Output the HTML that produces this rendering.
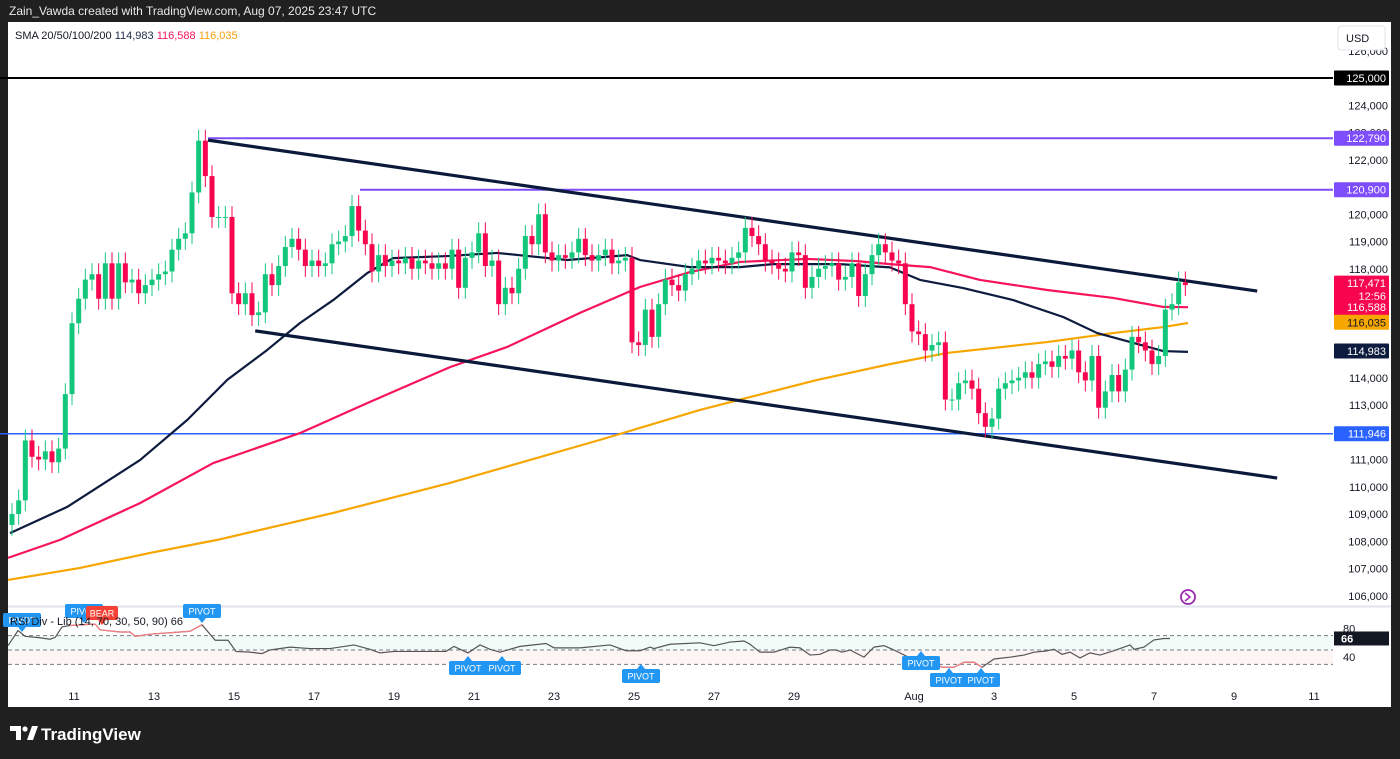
<!DOCTYPE html>
<html><head><meta charset="utf-8"><style>
html,body{margin:0;padding:0;background:#202020;width:1400px;height:759px;overflow:hidden;font-family:"Liberation Sans",Arial,sans-serif}
svg{position:absolute;left:0;top:0}
</style></head><body>
<svg id="chart" width="1400" height="759" viewBox="0 0 1400 759">
<rect x="0" y="0" width="1400" height="759" fill="#202020"/>
<rect x="8" y="22" width="1383" height="685" fill="#ffffff"/>
<text x="9" y="15" fill="#e8e8e8" font-size="12">Zain_Vawda created with TradingView.com, Aug 07, 2025 23:47 UTC</text>
<text x="15" y="39" font-size="11" fill="#131722">SMA 20/50/100/200 <tspan fill="#1e2a4a">114,983</tspan> <tspan fill="#f7145a">116,588</tspan> <tspan fill="#f5a00f">116,035</tspan></text>
<line x1="8" y1="606.5" x2="1391" y2="606.5" stroke="#e0e3eb" stroke-width="2"/>
<rect x="8" y="636" width="1325" height="14" fill="#f1fbf7"/>
<rect x="8" y="650" width="1325" height="14" fill="#fdf4f4"/>
<g id="main"></g>
<g id="rsi"></g>
<g id="axis"></g>
<rect x="1338" y="26" width="47" height="24" rx="3" fill="#fff" stroke="#e0e3eb"/>
<text x="1346" y="42" font-size="11" fill="#131722">USD</text>
<circle cx="1188" cy="597" r="7" fill="none" stroke="#9c27b0" stroke-width="1.8"/>
<path d="M1185 593 L1190 597 L1185 601" fill="none" stroke="#9c27b0" stroke-width="1.5"/>
<g>
<path d="M10 726 h11 v14 h-5 v-9 h-6 z" fill="#fff"/>
<circle cx="25" cy="729" r="2.6" fill="#fff"/>
<path d="M27 740 l5 -14 h6 l-5 14 z" fill="#fff"/>
<text x="41" y="740" fill="#fff" font-size="17" font-weight="bold">TradingView</text>
</g>
</svg>
<script>
// ---- data ----
const closes=[109.0,109.5,111.7,111.1,111.0,111.3,110.9,111.4,113.4,116.0,116.9,117.6,117.8,116.9,118.2,116.9,118.2,117.5,117.6,117.1,117.4,117.6,117.8,117.9,118.7,119.1,119.3,120.8,122.7,
121.4,119.9,119.9,119.9,117.1,116.7,117.1,116.3,116.4,117.8,117.4,118.1,118.8,119.1,118.7,118.1,118.3,118.1,118.2,118.9,119.0,119.2,120.3,119.4,118.9,117.9,118.5,118.1,118.3,
118.2,118.4,118.0,118.3,118.2,118.0,118.2,118.0,118.7,117.3,118.4,118.6,119.3,118.1,118.3,116.7,117.3,117.1,118.0,119.2,118.9,120.0,118.6,118.3,118.5,118.4,118.6,119.1,118.5,118.3,118.5,118.7,118.2,118.3,118.4,
115.3,115.2,116.5,115.5,116.7,117.6,117.4,117.2,117.8,118.0,118.3,118.2,118.4,118.3,118.2,118.4,118.6,119.5,119.2,118.9,118.3,118.2,118.0,117.9,118.6,118.5,117.3,117.7,118.0,118.1,118.2,117.6,117.7,118.2,
117.0,117.8,118.5,118.9,118.6,118.3,118.2,116.7,115.7,115.6,115.0,115.2,115.3,113.2,113.2,113.8,113.9,113.6,112.7,112.2,112.5,113.6,113.8,113.9,114.0,114.2,114.0,114.5,114.6,114.4,114.8,114.7,115.0,
114.2,113.9,114.8,112.9,113.5,114.1,113.5,114.3,115.5,115.3,115.0,114.5,114.8,116.5,116.7,117.5,117.4];
const firstOpen=108.6;
const startDay=9.45;
const sma20Days=[9.4,10.83,12.65,13.83,14.83,15.83,16.65,17.48,18.33,18.98,20.4,21.58,23.33,24.83,25.15,26.4,27.65,28.48,30.15,31.4,32.15,33.23,34.48,35.73,36.58,37.48,38.23,38.85];
const sma20Vals=[108.3,109.26,110.98,112.45,113.92,115.02,116.01,116.85,117.84,118.39,118.47,118.58,118.32,118.5,118.32,118.06,118.06,118.17,118.17,118.05,117.59,117.29,116.85,116.23,115.64,115.28,114.98,114.95];
const sma50Days=[9.35,10.65,12.65,14.48,16.65,18.33,20.4,21.83,23.65,25.15,26.4,27.65,29.33,30.58,31.4,32.4,33.65,35.33,36.98,38.23,38.85];
const sma50Vals=[107.39,108.05,109.4,110.87,111.97,113.07,114.39,115.13,116.38,117.33,117.88,118.25,118.36,118.28,118.17,118.06,117.59,117.22,116.93,116.6,116.59];
const sma200Days=[9.35,11.15,12.9,14.58,17.48,20.4,24.15,26.65,29.58,31.4,32.83,35.33,36.98,38.23,38.85];
const sma200Vals=[106.58,107.02,107.57,108.05,109.04,110.14,111.72,112.82,113.92,114.5,114.91,115.31,115.64,115.86,116.01];
const rsiDays=[9.35,9.6,9.78,10.15,10.4,10.53,10.7,10.9,11.53,11.65,12.15,12.4,12.53,12.9,13.65,13.9,14.2,14.53,14.85,15.05,15.4,15.7,15.9,16.4,16.9,17.4,18.0,18.4,18.65,19.0,20.3,20.5,20.85,21.15,21.4,21.65,22.15,22.8,23.0,23.65,24.4,24.8,25.15,25.4,25.5,25.9,26.65,27.0,27.4,27.75,27.9,28.15,28.5,28.9,29.15,29.4,29.65,29.9,30.05,30.2,30.4,30.75,31.0,31.25,31.5,31.9,32.25,32.5,32.7,33.0,33.25,33.5,33.7,34.0,34.4,34.75,35.0,35.3,35.5,35.7,35.9,36.15,36.4,36.65,37.0,37.4,37.5,37.75,38.0,38.25,38.4];
const rsiVals=[56,77,69,67,65,67.5,82,84,86,78,75,75,69,72,75,76,85,63.5,63.5,48,47,45,50,54,52,52,57,51,46,48,48,55,46,57,51,47,55,59,53,53,57,49,49,54,52,58,60,56,61,62.5,58,47,47,54,53,43,44,50,50,47,50,40,54,56,50,39,33,33,26,26,33,33,26,37.5,40,43,47,48.6,51,44,47,39,46,43,49,57,51,54,64,66,66];
const priceTicks=[126,124,123,122,121,120,119,118,114,113,111,110,109,108,107,106];
const dayTicks=[11,13,15,17,19,21,23,25,27,29,32,34,36,38,40,42];
const dayLabels=["11","13","15","17","19","21","23","25","27","29","Aug","3","5","7","9","11"];
const rsiTicks=[80,40];
const levelVals=[125.0,122.79,120.9,111.946];
const levelStart=[8.9,14.35,18.15,8.9];
const levelLabels=["125,000","122,790","120,900","111,946"];
const upperLineDays=[14.35,40.58], upperLineVals=[122.72,117.18];
const lowerLineDays=[15.53,41.08], lowerLineVals=[115.72,110.32];
const wick=0.4;

// ---- axis functions ----
const X=d=>74+(d-11)*40;
const Y=p=>78+(125-p)*27.25;
const RY=v=>650-(v-50)*0.72;
const NS='http://www.w3.org/2000/svg';
function mk(parent,tag,attrs){const e=document.createElementNS(NS,tag);for(const k in attrs)e.setAttribute(k,attrs[k]);parent.appendChild(e);return e;}
const main=document.getElementById('main'),rsi=document.getElementById('rsi'),axis=document.getElementById('axis');

levelVals.forEach((v,i)=>{
  const col=i===0?'#000000':(i===3?'#2962ff':'#7e4dfc');
  const l=mk(main,'line',{x1:X(levelStart[i]),x2:1333,y1:Y(v),y2:Y(v),stroke:col,'stroke-width':i===3?1.5:2});
  
  
});
function poly(days,vals,col,w,name){
  const p=mk(main,'polyline',{points:days.map((d,i)=>X(d)+','+Y(vals[i])).join(' '),fill:'none',stroke:col,'stroke-width':w,'stroke-linejoin':'round'});
  
  
}
poly(sma200Days,sma200Vals,'#f7a600',2.2,'sma-200-line');
poly(sma50Days,sma50Vals,'#f7145a',2.2,'sma-50-line');
poly(sma20Days,sma20Vals,'#0d1b3e',2.2,'sma-20-line');
poly(upperLineDays,upperLineVals,'#0b1a3a',3.2,'upper-trendline');
poly(lowerLineDays,lowerLineVals,'#0b1a3a',3.2,'lower-trendline');
closes.forEach((c,i)=>{
  const o=i===0?firstOpen:closes[i-1];
  const up=c>=o,col=up?'#12c77c':'#f7064f';
  const x=X(startDay+i/6);
  const g=mk(main,'g',{});
  
  
  mk(g,'line',{x1:x,x2:x,y1:Y(Math.max(o,c)+wick),y2:Y(Math.min(o,c)-wick),stroke:col,'stroke-width':1});
  const t=Y(Math.max(o,c)),b=Y(Math.min(o,c));
  mk(g,'rect',{x:x-2.5,y:t,width:5,height:Math.max(1,b-t),fill:col});
});
priceTicks.forEach(p=>{
  const t=mk(axis,'text',{x:1388,y:Y(p)+4,'text-anchor':'end','font-size':11,fill:'#131722'});
  t.textContent=(p*1000).toLocaleString('en-US');
  
  
});
function tag(v,txt,bg,fg,name,h){
  const g=mk(axis,'g',{});
  
  
  mk(g,'rect',{x:1334,y:Y(v)-7.5,width:55,height:h||15,fill:bg,rx:1});
  const t=mk(g,'text',{x:1386,y:Y(v)+4,'text-anchor':'end','font-size':11,fill:fg});
  t.textContent=txt;
  return g;
}
levelVals.forEach((v,i)=>tag(v,levelLabels[i],i===0?'#000':(i===3?'#2962ff':'#7e4dfc'),'#fff','level-label'));
const lg=tag(117.471,'117,471','#f7064f','#fff','last-price-label',40);
const t2=mk(lg,'text',{x:1386,y:Y(117.471)+17,'text-anchor':'end','font-size':11,fill:'#fff'});t2.textContent='12:56';
tag(116.588,'116,588','#f7064f','#fff','sma50-label');
tag(116.035,'116,035','#f7a600','#131722','sma200-label');
tag(114.983,'114,983','#0d1b3e','#fff','sma20-label');
dayTicks.forEach((d,i)=>{
  const t=mk(axis,'text',{x:X(d),y:700,'text-anchor':'middle','font-size':11,fill:'#131722'});
  t.textContent=dayLabels[i];
  
  
});
[70,50,30].forEach(v=>{
  const l=mk(rsi,'line',{x1:8,x2:1333,y1:RY(v),y2:RY(v),stroke:'#787b86','stroke-dasharray':'4 3','stroke-width':1});
  
  
});
const rl=mk(rsi,'polyline',{points:rsiDays.map((d,i)=>X(d)+','+RY(rsiVals[i])).join(' '),fill:'none',stroke:'#555','stroke-width':1.2});


const redSeg=rsiDays.map((d,i)=>[d,rsiVals[i]]).filter(p=>p[0]>=10.9&&p[0]<=14.2);
const rs=mk(rsi,'polyline',{points:redSeg.map(p=>X(p[0])+','+RY(p[1])).join(' '),fill:'none',stroke:'#f77c80','stroke-width':1.2});


const redSeg2=rsiDays.map((d,i)=>[d,rsiVals[i]]).filter(p=>p[0]>=32.25&&p[0]<=33.7);
const rs2=mk(rsi,'polyline',{points:redSeg2.map(p=>X(p[0])+','+RY(p[1])).join(' '),fill:'none',stroke:'#f77c80','stroke-width':1.2});


rsiTicks.forEach(v=>{
  const t=mk(rsi,'text',{x:1343,y:RY(v)+4,'font-size':11,fill:'#131722'});t.textContent=v;
  
  
});
const rb=mk(rsi,'rect',{x:1334,y:RY(66)-7,width:55,height:14,fill:'#131722'});


const rt=mk(rsi,'text',{x:1341,y:RY(66)+4,'font-size':11,fill:'#fff','font-weight':'bold'});rt.textContent='66';
function pivot(x,y,up,txt,col){
  const g=mk(rsi,'g',{});
  
  
  const w=txt.length*6+8;
  mk(g,'rect',{x:x-w/2,y:y,width:w,height:14,rx:2,fill:col});
  if(up) mk(g,'path',{d:`M${x-4} ${y} L${x} ${y-5} L${x+4} ${y} Z`,fill:col});
  else mk(g,'path',{d:`M${x-4} ${y+14} L${x} ${y+19} L${x+4} ${y+14} Z`,fill:col});
  const t=mk(g,'text',{x:x,y:y+10.5,'text-anchor':'middle','font-size':9,fill:'#fff'});t.textContent=txt;
}
pivot(22,613,false,'PIVOT','#2196f3');
pivot(84,604,false,'PIVOT','#2196f3');
pivot(102,606,false,'BEAR','#f44336');
pivot(202,604,false,'PIVOT','#2196f3');
pivot(468,661,true,'PIVOT','#2196f3');
pivot(502,661,true,'PIVOT','#2196f3');
pivot(641,669,true,'PIVOT','#2196f3');
pivot(921,656,true,'PIVOT','#2196f3');
pivot(949,673,true,'PIVOT','#2196f3');
pivot(981,673,true,'PIVOT','#2196f3');
const leg=mk(rsi,'text',{x:10,y:625,'font-size':11,fill:'#131722'});
leg.textContent='RSI Div - Lib (14, 70, 30, 50, 90)  66';


</script>
</body></html>
